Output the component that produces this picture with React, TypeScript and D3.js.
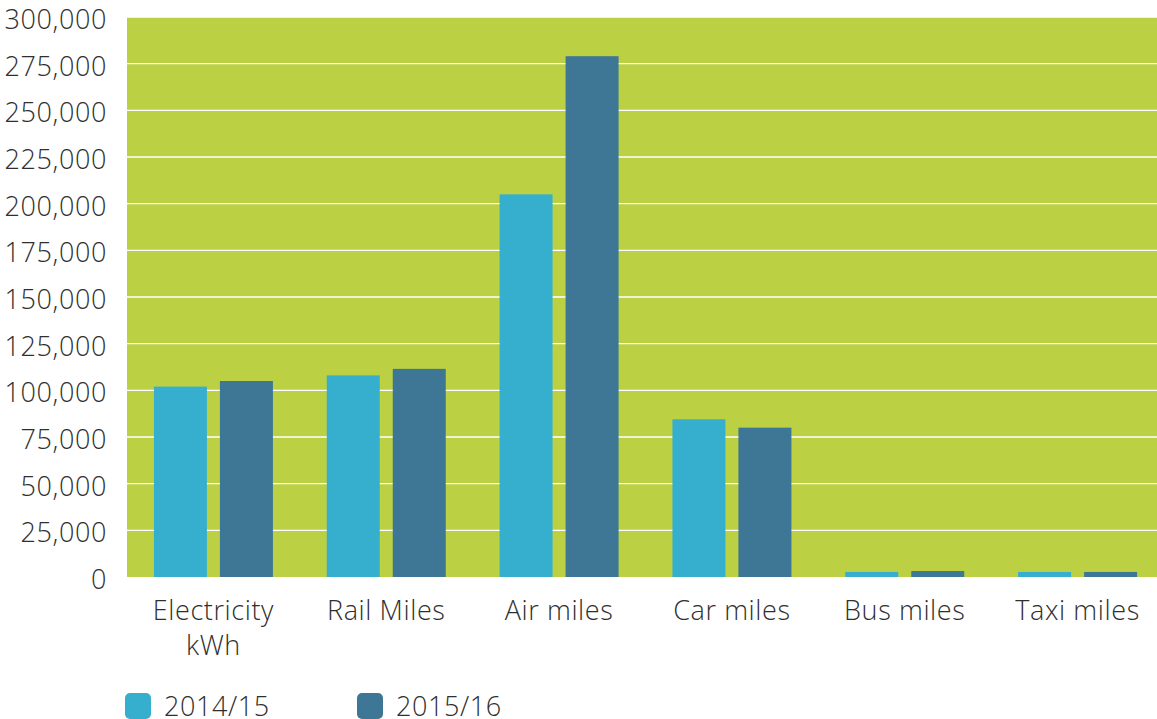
import React from "react";
import * as d3 from "d3";

const categories = ["Electricity\nkWh", "Rail Miles", "Air miles", "Car miles", "Bus miles", "Taxi miles"];
const seriesNames = ["2014/15", "2015/16"];
const values2014 = [102000, 108000, 205000, 84500, 2700, 2700];
const values2015 = [105000, 111500, 279000, 80000, 3200, 2700];
const yTicks = [0, 25000, 50000, 75000, 100000, 125000, 150000, 175000, 200000, 225000, 250000, 275000, 300000];

const W = 1157;
const H = 719;
const colors = ["#36AFCF", "#3D7795"];
const FONT = "'Open Sans', 'Noto Sans', sans-serif";

export default function App() {
  const left = 127, right = 1164, top = 17, bottom = 577;
  const x0 = d3.scaleBand<string>().domain(categories).range([left, right]).paddingInner(0).paddingOuter(0);
  const step = x0.bandwidth();
  const groupW = 119;
  const x1 = d3.scaleBand<string>().domain(seriesNames).range([0, groupW]).paddingInner(0.197);
  const y = d3.scaleLinear().domain([0, 300000]).range([bottom, top]);
  const fmt = d3.format(",");
  const series = [values2014, values2015];
  const textProps = { fontSize: 27, fill: "#2f2f2f", fontWeight: 300, letterSpacing: 0.6 };

  return (
    <svg width={W} height={H} style={{ position: "absolute", left: 0, top: 0 }} fontFamily={FONT}>
      <rect x={left} y={top} width={W - left} height={bottom - top} fill="#BBD143" />
      {yTicks.map((t) => (
        <g key={t}>
          {t > 0 && <line x1={left} x2={W} y1={y(t)} y2={y(t)} stroke="#fff" strokeWidth={1.3} />}
          <text x={107} y={y(t) + 12} textAnchor="end" {...textProps}>
            {fmt(t)}
          </text>
        </g>
      ))}
      {categories.map((c, i) => {
        const cx = (x0(c) as number) + step / 2;
        const gx = cx - groupW / 2;
        return (
          <g key={c}>
            {seriesNames.map((s, j) => (
              <rect
                key={s}
                x={gx + (x1(s) as number)}
                y={y(series[j][i])}
                width={x1.bandwidth()}
                height={bottom - y(series[j][i])}
                fill={colors[j]}
              />
            ))}
            {c.split("\n").map((line, k) => (
              <text key={k} x={cx} y={620 + k * 35} textAnchor="middle" {...textProps}>
                {line}
              </text>
            ))}
          </g>
        );
      })}
      {seriesNames.map((s, j) => {
        const lx = j === 0 ? 125 : 357;
        return (
          <g key={s}>
            <rect x={lx} y={693} width={26} height={26} rx={5} fill={colors[j]} />
            <text x={lx + 39} y={716} {...textProps}>
              {s}
            </text>
          </g>
        );
      })}
    </svg>
  );
}
